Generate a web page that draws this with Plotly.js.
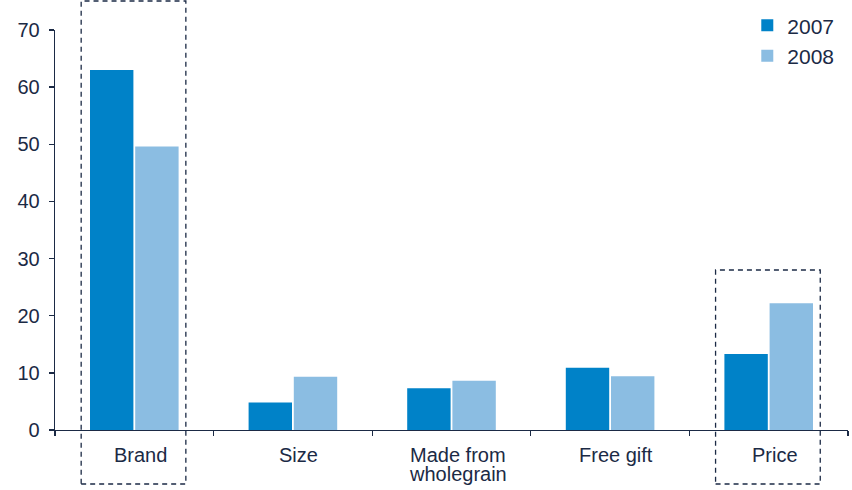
<!DOCTYPE html>
<html>
<head>
<meta charset="utf-8">
<script src="https://cdn.plot.ly/plotly-3.0.1.min.js"></script>
<style>html,body{margin:0;padding:0;background:#fff;}#chart{width:852px;height:490px;}</style>
</head>
<body>
<div id="chart"></div>
<script>
const categories = ["Brand", "Size", "Made from<br>wholegrain", "Free gift", "Price"];
const values2007 = [63, 4.8, 7.3, 10.9, 13.3];
const values2008 = [49.6, 9.3, 8.6, 9.4, 22.2];
const seriesNames = ["2007", "2008"];
const yTicks = [0, 10, 20, 30, 40, 50, 60, 70];
const highlighted = ["Brand", "Price"];

const navy = "#1b2a45";
const family = "Liberation Sans, Arial, sans-serif";
const font = {family: family, size: 20, color: navy};

const traces = [
  {type: "bar", name: seriesNames[0], x: categories, y: values2007, marker: {color: "#0082c8"}},
  {type: "bar", name: seriesNames[1], x: categories, y: values2008, marker: {color: "#8bbde2"}}
];

const boxTops = {"Brand": 1.0725, "Price": 0.4};
const shapes = highlighted.map(c => {
  const i = categories.indexOf(c);
  return {type: "rect", xref: "x", yref: "paper", x0: i - 0.335, x1: i + 0.325,
          y0: -0.135, y1: boxTops[c], line: {color: navy, width: 1.3, dash: "5px,4px"}, layer: "above"};
});

// category labels: one annotation per text line (tight line spacing as in the original)
const annotations = [];
categories.forEach((c, i) => {
  c.split("<br>").forEach((line, k) => {
    annotations.push({xref: "x", yref: "paper", x: i, y: -0.03 - k * 0.0475, xanchor: "center", yanchor: "top",
                      xshift: 6, text: line, showarrow: false, font: font});
  });
});

const layout = {
  width: 852, height: 490,
  margin: {l: 55, r: 4, t: 30, b: 60},
  paper_bgcolor: "#fff", plot_bgcolor: "#fff",
  font: font,
  barmode: "group", bargap: 0.43, bargroupgap: 0.04,
  showlegend: true,
  legend: {x: 0.873, y: 1.062, xanchor: "left", yanchor: "top",
           font: {family: family, size: 21, color: navy}, bgcolor: "rgba(0,0,0,0)"},
  xaxis: {type: "category", showline: true, linecolor: navy, linewidth: 1.3, ticks: "outside", tickson: "boundaries",
          ticklen: 5, tickcolor: navy, tickwidth: 1.3, showgrid: false, zeroline: false, showticklabels: false,
          fixedrange: true},
  yaxis: {range: [0, 70], tickvals: yTicks, ticktext: yTicks.map(String), showline: true, linecolor: navy, linewidth: 1.3,
          ticks: "outside", ticklen: 5, tickcolor: navy, tickwidth: 1.3, showgrid: false, zeroline: false,
          ticklabelstandoff: 5, tickfont: font, fixedrange: true},
  shapes: shapes,
  annotations: annotations
};

Plotly.newPlot("chart", traces, layout, {displayModeBar: false, staticPlot: true});
</script>
</body>
</html>
